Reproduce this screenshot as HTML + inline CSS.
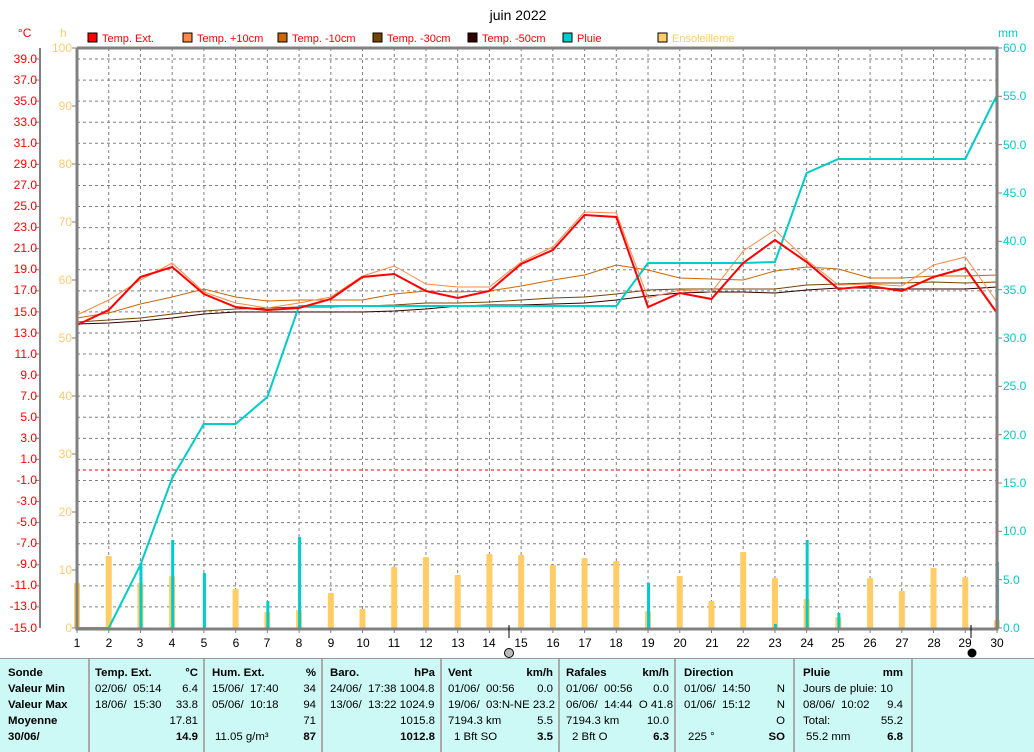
<!DOCTYPE html>
<html><head><meta charset="utf-8"><style>
body{margin:0;background:#fff;width:1034px;height:751px;overflow:hidden;font-family:"Liberation Sans",sans-serif}
svg{position:absolute;left:0;top:0}
.tb{position:absolute;top:658px;left:0;width:1034px;height:93px;background:#ccf8f6;border-top:1px solid #999}
.col{position:absolute;top:0;height:93px;border-right:2px solid #aaa;font-size:11.4px;font-family:"Liberation Sans",sans-serif}
.col div{position:absolute;white-space:nowrap}
b{font-weight:bold}
</style></head><body>
<svg width="1034" height="751" xmlns="http://www.w3.org/2000/svg" font-family="Liberation Sans, sans-serif" font-size="12">
<g id="grid" stroke="#808080" stroke-dasharray="3,3" stroke-width="1"></g>
<line x1="77" y1="470" x2="997" y2="470" stroke="#e00" stroke-dasharray="3,3"/>
<g id="bars"></g>
<g id="lines" fill="none"></g>
<g stroke="#808080" stroke-width="3" fill="none"><polyline points="77,48 77,629 997,629 997,48 77,48"/></g>
<line x1="40" y1="48" x2="40" y2="628" stroke="#808080" stroke-width="2"/>
<g id="ticks" stroke="#808080"></g>
<text x="518" y="20" font-size="14" text-anchor="middle">juin 2022</text>
<text x="18" y="37" fill="#f00">°C</text>
<text x="60" y="37" fill="#fc6">h</text>
<text x="998" y="37" fill="#0cc">mm</text>
<g font-size="11">
<rect x="88" y="33" width="9" height="9" fill="#f00" stroke="#000"/><text x="102" y="42" fill="#f00">Temp. Ext.</text>
<rect x="183" y="33" width="9" height="9" fill="#f84" stroke="#000"/><text x="197" y="42" fill="#f00">Temp. +10cm</text>
<rect x="278" y="33" width="9" height="9" fill="#c60" stroke="#000"/><text x="292" y="42" fill="#f00">Temp. -10cm</text>
<rect x="373" y="33" width="9" height="9" fill="#740" stroke="#000"/><text x="387" y="42" fill="#f00">Temp. -30cm</text>
<rect x="468" y="33" width="9" height="9" fill="#300" stroke="#000"/><text x="482" y="42" fill="#f00">Temp. -50cm</text>
<rect x="563" y="33" width="9" height="9" fill="#0cc" stroke="#000"/><text x="577" y="42" fill="#f00">Pluie</text>
<rect x="658" y="33" width="9" height="9" fill="#fc6" stroke="#000"/><text x="672" y="42" fill="#fc6">Ensoleilleme</text>
</g>
<g fill="#f00" text-anchor="end">
<text x="37" y="63">39.0</text><text x="37" y="84">37.0</text><text x="37" y="105">35.0</text><text x="37" y="126">33.0</text><text x="37" y="147">31.0</text><text x="37" y="168">29.0</text><text x="37" y="189">27.0</text><text x="37" y="210">25.0</text><text x="37" y="231">23.0</text><text x="37" y="252">21.0</text><text x="37" y="273">19.0</text><text x="37" y="294">17.0</text><text x="37" y="316">15.0</text><text x="37" y="337">13.0</text><text x="37" y="358">11.0</text><text x="37" y="379">9.0</text><text x="37" y="400">7.0</text><text x="37" y="421">5.0</text><text x="37" y="442">3.0</text><text x="37" y="463">1.0</text><text x="37" y="484">-1.0</text><text x="37" y="505">-3.0</text><text x="37" y="526">-5.0</text><text x="37" y="547">-7.0</text><text x="37" y="568">-9.0</text><text x="37" y="589">-11.0</text><text x="37" y="610">-13.0</text><text x="37" y="632">-15.0</text>
</g>
<g fill="#fc6" text-anchor="end">
<text x="72" y="52">100</text><text x="72" y="110">90</text><text x="72" y="168">80</text><text x="72" y="226">70</text><text x="72" y="284">60</text><text x="72" y="342">50</text><text x="72" y="400">40</text><text x="72" y="458">30</text><text x="72" y="516">20</text><text x="72" y="574">10</text><text x="72" y="632">0</text>
</g>
<g fill="#0cc">
<text x="1003" y="52">60.0</text><text x="1003" y="100">55.0</text><text x="1003" y="149">50.0</text><text x="1003" y="197">45.0</text><text x="1003" y="245">40.0</text><text x="1003" y="294">35.0</text><text x="1003" y="342">30.0</text><text x="1003" y="390">25.0</text><text x="1003" y="439">20.0</text><text x="1003" y="487">15.0</text><text x="1003" y="535">10.0</text><text x="1003" y="584">5.0</text><text x="1003" y="632">0.0</text>
</g>
<g text-anchor="middle">
<text x="77" y="647">1</text><text x="109" y="647">2</text><text x="140" y="647">3</text><text x="172" y="647">4</text><text x="204" y="647">5</text><text x="236" y="647">6</text><text x="267" y="647">7</text><text x="299" y="647">8</text><text x="331" y="647">9</text><text x="363" y="647">10</text><text x="394" y="647">11</text><text x="426" y="647">12</text><text x="458" y="647">13</text><text x="489" y="647">14</text><text x="521" y="647">15</text><text x="553" y="647">16</text><text x="585" y="647">17</text><text x="616" y="647">18</text><text x="648" y="647">19</text><text x="680" y="647">20</text><text x="712" y="647">21</text><text x="743" y="647">22</text><text x="775" y="647">23</text><text x="807" y="647">24</text><text x="838" y="647">25</text><text x="870" y="647">26</text><text x="902" y="647">27</text><text x="934" y="647">28</text><text x="965" y="647">29</text><text x="997" y="647">30</text>
</g>
<line x1="509" y1="625" x2="509" y2="638" stroke="#000"/><circle cx="509" cy="653" r="4.5" fill="#bbb" stroke="#000"/>
<line x1="971" y1="625" x2="971" y2="638" stroke="#000"/><circle cx="972" cy="653" r="4.5" fill="#000"/>
</svg>
<div class="tb">
<div class="col" style="left:0;width:88px"><div style="left:8px;top:8px"><b>Sonde</b></div><div style="left:8px;top:24px"><b>Valeur Min</b></div><div style="left:8px;top:40px"><b>Valeur Max</b></div><div style="left:8px;top:56px"><b>Moyenne</b></div><div style="left:8px;top:72px"><b>30/06/</b></div></div>
<div class="col" style="left:90px;width:113px"><div style="left:5px;top:8px"><b>Temp. Ext.</b></div><div style="right:5px;top:8px"><b>°C</b></div><div style="left:5px;top:24px">02/06/&nbsp; 05:14</div><div style="right:5px;top:24px">6.4</div><div style="left:5px;top:40px">18/06/&nbsp; 15:30</div><div style="right:5px;top:40px">33.8</div><div style="right:5px;top:56px">17.81</div><div style="right:5px;top:72px"><b>14.9</b></div></div>
<div class="col" style="left:205px;width:116px"><div style="left:7px;top:8px"><b>Hum. Ext.</b></div><div style="right:5px;top:8px"><b>%</b></div><div style="left:7px;top:24px">15/06/&nbsp; 17:40</div><div style="right:5px;top:24px">34</div><div style="left:7px;top:40px">05/06/&nbsp; 10:18</div><div style="right:5px;top:40px">94</div><div style="right:5px;top:56px">71</div><div style="left:10px;top:72px">11.05 g/m³</div><div style="right:5px;top:72px"><b>87</b></div></div>
<div class="col" style="left:323px;width:117px"><div style="left:7px;top:8px"><b>Baro.</b></div><div style="right:5px;top:8px"><b>hPa</b></div><div style="left:7px;top:24px">24/06/&nbsp; 17:38 1004.8</div><div style="left:7px;top:40px">13/06/&nbsp; 13:22 1024.9</div><div style="right:5px;top:56px">1015.8</div><div style="right:5px;top:72px"><b>1012.8</b></div></div>
<div class="col" style="left:442px;width:116px"><div style="left:6px;top:8px"><b>Vent</b></div><div style="right:5px;top:8px"><b>km/h</b></div><div style="left:6px;top:24px">01/06/&nbsp; 00:56</div><div style="right:5px;top:24px">0.0</div><div style="left:6px;top:40px">19/06/&nbsp; 03:N-NE 23.2</div><div style="left:6px;top:56px">7194.3 km</div><div style="right:5px;top:56px">5.5</div><div style="left:12px;top:72px">1 Bft SO</div><div style="right:5px;top:72px"><b>3.5</b></div></div>
<div class="col" style="left:560px;width:114px"><div style="left:6px;top:8px"><b>Rafales</b></div><div style="right:5px;top:8px"><b>km/h</b></div><div style="left:6px;top:24px">01/06/&nbsp; 00:56</div><div style="right:5px;top:24px">0.0</div><div style="left:6px;top:40px">06/06/&nbsp; 14:44&nbsp; O 41.8</div><div style="left:6px;top:56px">7194.3 km</div><div style="right:5px;top:56px">10.0</div><div style="left:12px;top:72px">2 Bft O</div><div style="right:5px;top:72px"><b>6.3</b></div></div>
<div class="col" style="left:676px;width:117px"><div style="left:8px;top:8px"><b>Direction</b></div><div style="left:8px;top:24px">01/06/&nbsp; 14:50</div><div style="right:8px;top:24px">N</div><div style="left:8px;top:40px">01/06/&nbsp; 15:12</div><div style="right:8px;top:40px">N</div><div style="right:8px;top:56px">O</div><div style="left:12px;top:72px">225 °</div><div style="right:8px;top:72px"><b>SO</b></div></div>
<div class="col" style="left:795px;width:116px"><div style="left:8px;top:8px"><b>Pluie</b></div><div style="right:8px;top:8px"><b>mm</b></div><div style="left:8px;top:24px">Jours de pluie: 10</div><div style="left:8px;top:40px">08/06/&nbsp; 10:02</div><div style="right:8px;top:40px">9.4</div><div style="left:8px;top:56px">Total:</div><div style="right:8px;top:56px">55.2</div><div style="left:11px;top:72px">55.2 mm</div><div style="right:8px;top:72px"><b>6.8</b></div></div>
</div>
<script>
var NS="http://www.w3.org/2000/svg";
function el(p,t,a){var e=document.createElementNS(NS,t);for(var k in a)e.setAttribute(k,a[k]);document.getElementById(p).appendChild(e);return e;}
function X(d){return 77+(d-1)*31.724;}
for(var d=2;d<=29;d++)el("grid","line",{x1:X(d),y1:48,x2:X(d),y2:628});
for(var t=-13;t<=39;t+=2){var y=628-(t+15)*10.537;el("grid","line",{x1:77,y1:y,x2:997,y2:y});el("ticks","line",{x1:35,y1:y,x2:40,y2:y});}
for(var h=0;h<=100;h+=10){var y=628-h*5.8;el("ticks","line",{x1:72,y1:y,x2:77,y2:y});}
for(var m=0;m<=60;m+=5){var y=628-m*9.667;el("ticks","line",{x1:997,y1:y,x2:1002,y2:y});}
for(var d=1;d<=30;d++)el("ticks","line",{x1:X(d),y1:628,x2:X(d),y2:633});
var sun=[583,556,583,576,628,589,612,610,593,609,567,557,575,554,555,565,558,561,611,576,601,552,578,599,617,578,591,568,577,620];
sun.forEach(function(y,i){if(y<628)el("bars","rect",{x:X(i+1)-3,y:y,width:6,height:628-y,fill:"#fc6",rx:1});});
var rain={3:563,4:540,5:573,7:601,8:537,19:583,23:624,24:540,25:613,30:562};
for(var k in rain)el("bars","rect",{x:X(+k)-1,y:rain[k],width:3,height:628-rain[k],fill:"#0cc"});
function pl(arr,c,w){el("lines","polyline",{points:arr.map(function(y,i){return X(i+1)+","+y}).join(" "),stroke:c,"stroke-width":w});}
pl([322,320,318,314,311,309,308,307,307,306,305,303,303,302,300,298,297,294,290,289,289,289,289,285,284,283,283,282,283,282],"#740",1);
pl([324,323,321,318,314,312,312,312,312,312,311,309,306,305,305,304,303,300,296,293,292,292,293,290,288,288,289,289,289,287],"#300",1);
pl([318,313,304,297,289,297,301,300,300,300,294,291,292,291,286,280,275,265,270,278,279,280,271,267,269,278,278,276,276,275],"#c60",1);
pl([315,300,280,263,292,303,308,303,297,276,266,284,287,287,262,247,212,213,298,290,292,251,230,260,285,284,286,265,257,302],"#f84",1);
pl([628,628,565,478,424,424,397,306,306,306,306,306,306,306,306,306,306,306,263,263,263,263,262,173,159,159,159,159,159,95],"#0cc",2);
pl([325,310,277,267,294,307,310,308,299,277,274,291,298,291,264,250,215,217,307,293,299,263,240,262,289,286,291,277,268,313],"#f00",2);
</script>
</body></html>
